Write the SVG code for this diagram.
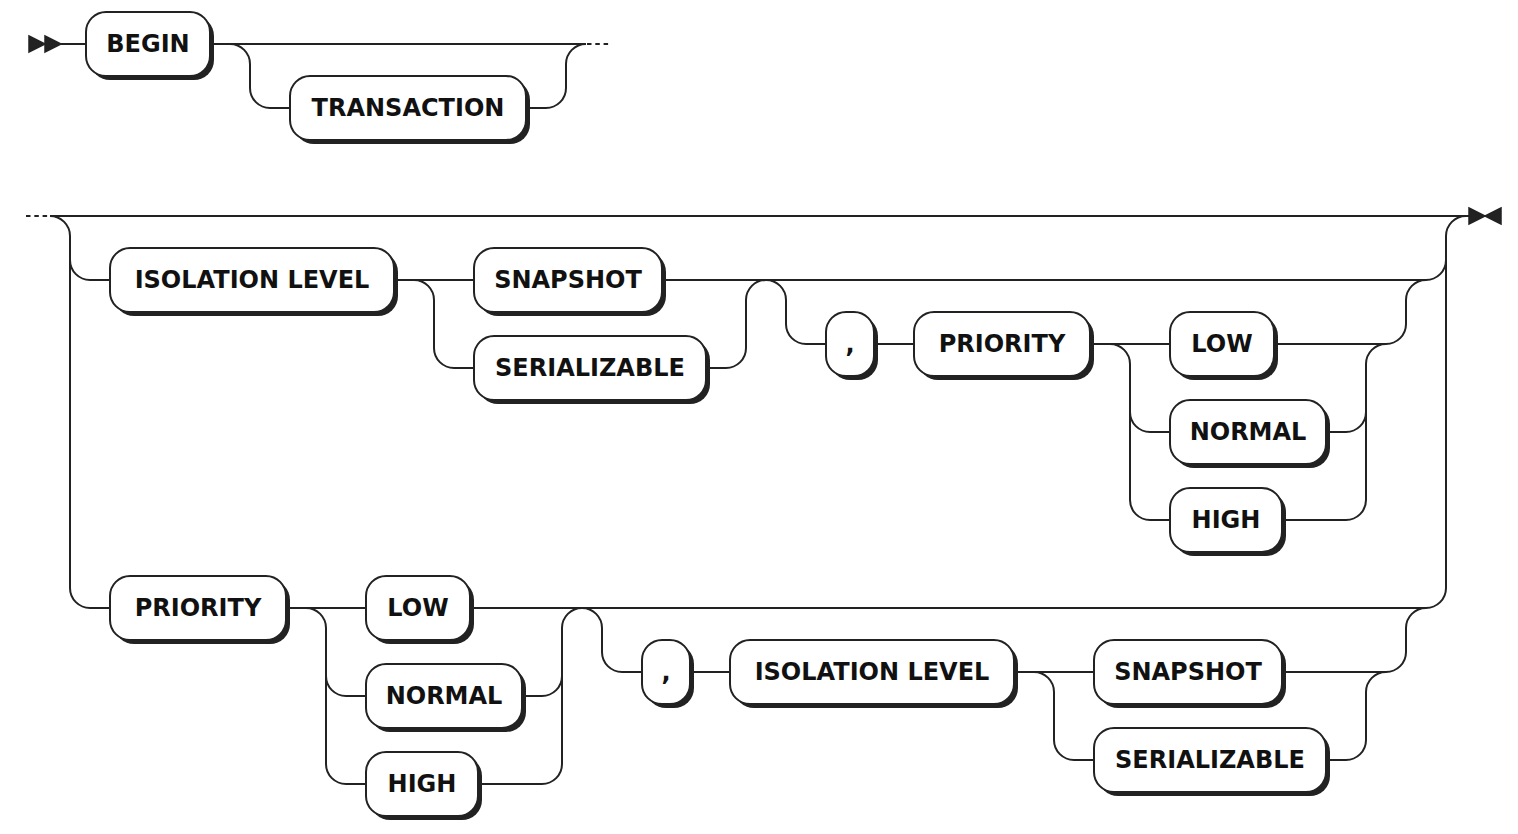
<svg xmlns="http://www.w3.org/2000/svg" width="1518" height="834" viewBox="0 0 1518 834">
<style>
.line{fill:none;stroke:#222;stroke-width:2}
.dot{fill:none;stroke:#222;stroke-width:2;stroke-dasharray:4.5 3.8}
.mark{fill:#222;stroke:#222;stroke-width:1.5}
.shadow{fill:#222;stroke:none}
.box{fill:#fff;stroke:#222;stroke-width:2}
.lbl{font-family:"DejaVu Sans","Verdana",sans-serif;font-weight:bold;font-size:24px;fill:#111;text-anchor:middle}
</style>
<rect width="1518" height="834" fill="#fff"/>
<g id="connectors">
<polygon class="mark" points="29,36 45,44 29,52"/>
<polygon class="mark" points="45,36 61,44 45,52"/>
<path class="line" d="M61 44 H86"/>
<path class="line" d="M210 44 H586"/>
<path class="line" d="M230 44 A20 20 0 0 1 250 64 V88 A20 20 0 0 0 270 108 H290"/>
<path class="line" d="M526 108 H546 A20 20 0 0 0 566 88 V64 A20 20 0 0 1 586 44"/>
<path class="dot" d="M587 44 H610"/>
<path class="dot" d="M26 216 H50"/>
<path class="line" d="M50 216 H1469"/>
<polygon class="mark" points="1469,208 1485,216 1469,224"/>
<polygon class="mark" points="1501,208 1485,216 1501,224"/>
<path class="line" d="M50 216 A20 20 0 0 1 70 236 V588 A20 20 0 0 0 90 608 H110"/>
<path class="line" d="M70 260 A20 20 0 0 0 90 280 H110"/>
<path class="line" d="M1426 608 A20 20 0 0 0 1446 588 V236 A20 20 0 0 1 1466 216"/>
<path class="line" d="M1426 280 A20 20 0 0 0 1446 260"/>
<path class="line" d="M394 280 H1426"/>
<path class="line" d="M414 280 A20 20 0 0 1 434 300 V348 A20 20 0 0 0 454 368 H474"/>
<path class="line" d="M706 368 H726 A20 20 0 0 0 746 348 V300 A20 20 0 0 1 766 280"/>
<path class="line" d="M766 280 A20 20 0 0 1 786 300 V324 A20 20 0 0 0 806 344 H826"/>
<path class="line" d="M874 344 H914"/>
<path class="line" d="M1090 344 H1386 A20 20 0 0 0 1406 324 V300 A20 20 0 0 1 1426 280"/>
<path class="line" d="M1110 344 A20 20 0 0 1 1130 364 V500 A20 20 0 0 0 1150 520 H1170"/>
<path class="line" d="M1130 412 A20 20 0 0 0 1150 432 H1170"/>
<path class="line" d="M1326 432 H1346 A20 20 0 0 0 1366 412 V364 A20 20 0 0 1 1386 344"/>
<path class="line" d="M1282 520 H1346 A20 20 0 0 0 1366 500 V412"/>
<path class="line" d="M286 608 H1426"/>
<path class="line" d="M306 608 A20 20 0 0 1 326 628 V764 A20 20 0 0 0 346 784 H366"/>
<path class="line" d="M326 676 A20 20 0 0 0 346 696 H366"/>
<path class="line" d="M522 696 H542 A20 20 0 0 0 562 676 V628 A20 20 0 0 1 582 608"/>
<path class="line" d="M478 784 H542 A20 20 0 0 0 562 764 V676"/>
<path class="line" d="M582 608 A20 20 0 0 1 602 628 V652 A20 20 0 0 0 622 672 H642"/>
<path class="line" d="M690 672 H730"/>
<path class="line" d="M1014 672 H1386 A20 20 0 0 0 1406 652 V628 A20 20 0 0 1 1426 608"/>
<path class="line" d="M1034 672 A20 20 0 0 1 1054 692 V740 A20 20 0 0 0 1074 760 H1094"/>
<path class="line" d="M1326 760 H1346 A20 20 0 0 0 1366 740 V692 A20 20 0 0 1 1386 672"/>
</g>
<g id="n-begin"><rect class="shadow" x="90" y="16" width="124" height="64" rx="20"/><rect class="box" x="86" y="12" width="124" height="64" rx="20"/><text class="lbl" x="148" y="52">BEGIN</text></g>
<g id="n-transaction"><rect class="shadow" x="294" y="80" width="236" height="64" rx="20"/><rect class="box" x="290" y="76" width="236" height="64" rx="20"/><text class="lbl" x="408" y="116">TRANSACTION</text></g>
<g id="n-iso1"><rect class="shadow" x="114" y="252" width="284" height="64" rx="20"/><rect class="box" x="110" y="248" width="284" height="64" rx="20"/><text class="lbl" x="252" y="288">ISOLATION LEVEL</text></g>
<g id="n-snap1"><rect class="shadow" x="478" y="252" width="188" height="64" rx="20"/><rect class="box" x="474" y="248" width="188" height="64" rx="20"/><text class="lbl" x="568" y="288">SNAPSHOT</text></g>
<g id="n-ser1"><rect class="shadow" x="478" y="340" width="232" height="64" rx="20"/><rect class="box" x="474" y="336" width="232" height="64" rx="20"/><text class="lbl" x="590" y="376">SERIALIZABLE</text></g>
<g id="n-comma1"><rect class="shadow" x="830" y="316" width="48" height="64" rx="20"/><rect class="box" x="826" y="312" width="48" height="64" rx="20"/><text class="lbl" x="850" y="352">,</text></g>
<g id="n-prio1"><rect class="shadow" x="918" y="316" width="176" height="64" rx="20"/><rect class="box" x="914" y="312" width="176" height="64" rx="20"/><text class="lbl" x="1002" y="352">PRIORITY</text></g>
<g id="n-low1"><rect class="shadow" x="1174" y="316" width="104" height="64" rx="20"/><rect class="box" x="1170" y="312" width="104" height="64" rx="20"/><text class="lbl" x="1222" y="352">LOW</text></g>
<g id="n-normal1"><rect class="shadow" x="1174" y="404" width="156" height="64" rx="20"/><rect class="box" x="1170" y="400" width="156" height="64" rx="20"/><text class="lbl" x="1248" y="440">NORMAL</text></g>
<g id="n-high1"><rect class="shadow" x="1174" y="492" width="112" height="64" rx="20"/><rect class="box" x="1170" y="488" width="112" height="64" rx="20"/><text class="lbl" x="1226" y="528">HIGH</text></g>
<g id="n-prio2"><rect class="shadow" x="114" y="580" width="176" height="64" rx="20"/><rect class="box" x="110" y="576" width="176" height="64" rx="20"/><text class="lbl" x="198" y="616">PRIORITY</text></g>
<g id="n-low2"><rect class="shadow" x="370" y="580" width="104" height="64" rx="20"/><rect class="box" x="366" y="576" width="104" height="64" rx="20"/><text class="lbl" x="418" y="616">LOW</text></g>
<g id="n-normal2"><rect class="shadow" x="370" y="668" width="156" height="64" rx="20"/><rect class="box" x="366" y="664" width="156" height="64" rx="20"/><text class="lbl" x="444" y="704">NORMAL</text></g>
<g id="n-high2"><rect class="shadow" x="370" y="756" width="112" height="64" rx="20"/><rect class="box" x="366" y="752" width="112" height="64" rx="20"/><text class="lbl" x="422" y="792">HIGH</text></g>
<g id="n-comma2"><rect class="shadow" x="646" y="644" width="48" height="64" rx="20"/><rect class="box" x="642" y="640" width="48" height="64" rx="20"/><text class="lbl" x="666" y="680">,</text></g>
<g id="n-iso2"><rect class="shadow" x="734" y="644" width="284" height="64" rx="20"/><rect class="box" x="730" y="640" width="284" height="64" rx="20"/><text class="lbl" x="872" y="680">ISOLATION LEVEL</text></g>
<g id="n-snap2"><rect class="shadow" x="1098" y="644" width="188" height="64" rx="20"/><rect class="box" x="1094" y="640" width="188" height="64" rx="20"/><text class="lbl" x="1188" y="680">SNAPSHOT</text></g>
<g id="n-ser2"><rect class="shadow" x="1098" y="732" width="232" height="64" rx="20"/><rect class="box" x="1094" y="728" width="232" height="64" rx="20"/><text class="lbl" x="1210" y="768">SERIALIZABLE</text></g>
</svg>
